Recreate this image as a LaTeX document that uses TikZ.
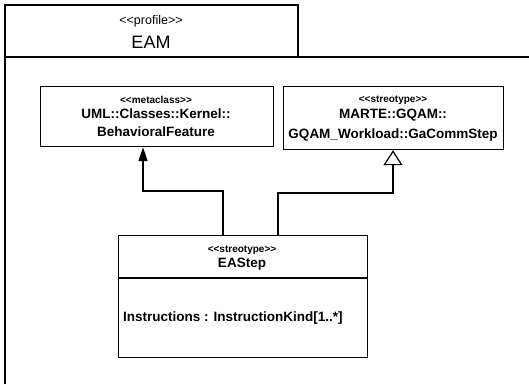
\documentclass[tikz,border=0pt]{standalone}
\usepackage{fontspec}
\setmainfont{Liberation Sans}
\usetikzlibrary{arrows.meta}
\begin{document}
\begin{tikzpicture}[x=1pt,y=-1pt,
  umlbox/.style={draw, line width=1.2pt, rectangle, inner sep=0pt, anchor=north west},
  stereo/.style={font=\fontsize{10}{11}\selectfont\bfseries, inner sep=0pt},
  cname/.style={font=\fontsize{13.5}{16}\selectfont\bfseries, inner sep=0pt},
  conn/.style={line width=1.2pt},
  extends/.style={conn, -{Triangle[width=9pt,length=14pt]}},
  generalizes/.style={conn, -{Triangle[open,width=19pt,length=15pt,line width=1.2pt]}}
]
\useasboundingbox (0,0) rectangle (529,384);

% package frame with its name tab
\draw[line width=1.5pt] (5,384) -- (5,57) -- (529,57);
\draw[line width=1.5pt] (5,57) -- (5,5) -- (298,5) -- (298,57);
\node[font=\fontsize{12.5}{14}\selectfont, inner sep=0pt] (pkgst) at (151,21) {<{}<profile>{}>};
\node[font=\fontsize{18}{20}\selectfont, inner sep=0pt] (pkgname) at (151,42) {EAM};

% metaclass
\node[umlbox, minimum width=233pt, minimum height=60pt] (meta) at (40,86) {};
\node[stereo] (metast) at (156,100) {<{}<metaclass>{}>};
\node[cname] (metan1) at (156,114) {UML::Classes::Kernel::};
\node[cname] (metan2) at (156,132) {BehavioralFeature};

% GaCommStep stereotype
\node[umlbox, minimum width=220pt, minimum height=63pt] (gastep) at (283,86) {};
\node[stereo] (gast) at (393,100) {<{}<streotype>{}>};
\node[cname] (gan1) at (393,115) {MARTE::GQAM::};
\node[cname] (gan2) at (393,135) {GQAM\_Workload::GaCommStep};

% EAStep stereotype
\node[umlbox, minimum width=249pt, minimum height=122pt] (eastep) at (118,235) {};
\draw[line width=1.2pt] (eastep.west |- 0,278) -- (eastep.east |- 0,278);
\node[stereo] (east) at (242,250) {<{}<streotype>{}>};
\node[cname] (ean) at (242,264) {EAStep};
\node[cname, anchor=west] (eaattr) at (123,318) {Instructions : InstructionKind[1..*]};

% extension and generalization
\draw[extends] (eastep.north -| 223,0) |- (143,191) -- (meta.south -| 143,0);
\draw[generalizes] (eastep.north -| 278,0) |- (393,193) -- (gastep.south -| 393,0);
\end{tikzpicture}
\end{document}
